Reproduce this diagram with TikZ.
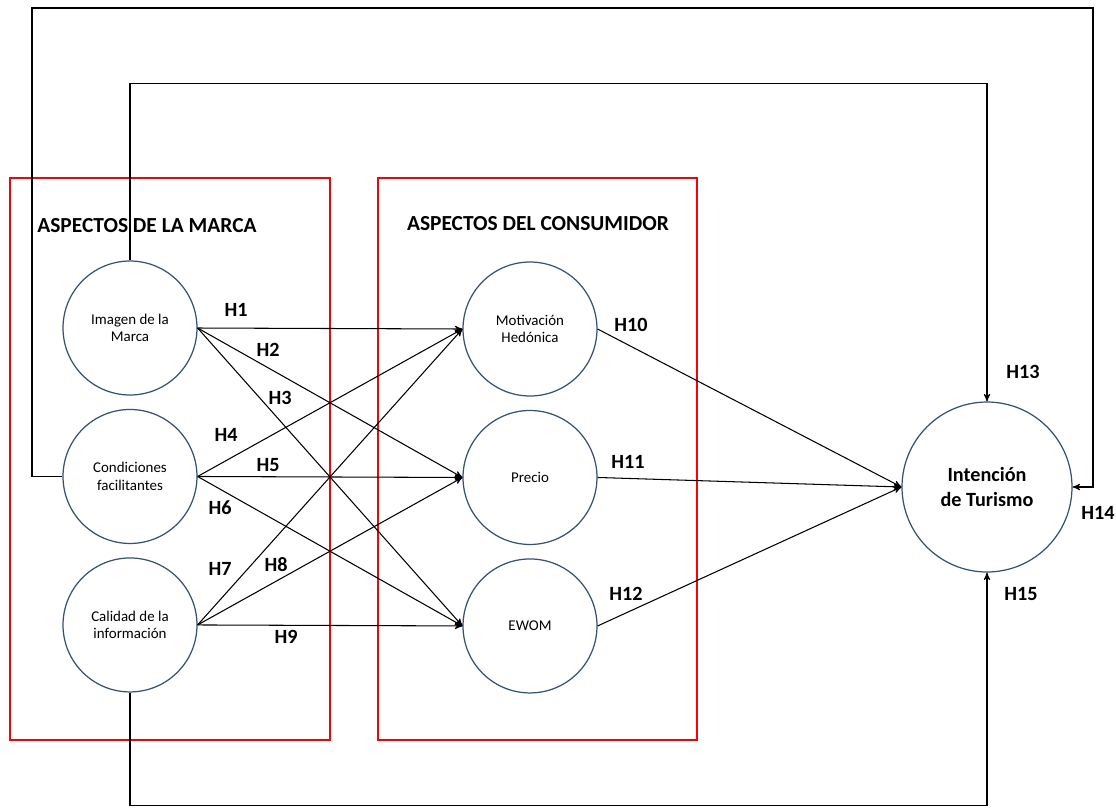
\documentclass[tikz,border=0pt]{standalone}
\usepackage{fontspec}
\setmainfont{Carlito}
\usetikzlibrary{arrows}

\definecolor{circblue}{RGB}{55,80,115}

\begin{document}
\begin{tikzpicture}[x=0.02cm,y=-0.02cm,>=stealth',line width=0.6pt,node distance=2.97cm,
  every node/.style={font=\bfseries\fontsize{11.5}{13}\selectfont},
  var/.style={circle,draw=circblue,line width=0.7pt,minimum size=2.68cm,inner sep=0pt,align=center,font=\fontsize{8.5}{10}\selectfont},
  box/.style={draw=red,line width=1.2pt},
  grp/.style={font=\bfseries\fontsize{12.2}{14}\selectfont}]
\useasboundingbox (0,0) rectangle (1116,809);

% grupos
\draw[box] (10,178) rectangle (330,740);
\draw[box] (378,178) rectangle (697,740);
\node[grp] (marca) at (147,226) {ASPECTOS DE LA MARCA};
\node[grp] (consu) at (538,224) {ASPECTOS DEL CONSUMIDOR};

% constructos
\node[var] (img) at (130,328) {Imagen de la\\Marca};
 \node[var] (cond) [below of=img] {Condiciones\\facilitantes};
  \node[var] (cal) [below of=cond] {Calidad de la\\información};
\node[var] (mot) at (530,329) {Motivación\\Hedónica};
 \node[var] (pre) [below of=mot] {Precio};
  \node[var] (ew) [below of=pre] {EWOM};
\node[var,minimum size=3.4cm,font=\bfseries\fontsize{11.5}{14}\selectfont] (int) at (987,487) {Intención\\de Turismo};

\coordinate (k1) at (32,8);
\coordinate (k2) at (1093,8);

\path[->] (img.east) edge (mot.west)
                     edge (pre.west)
                     edge (ew.west)
          (cond.east) edge (mot.west)
                      edge (pre.west)
                      edge (ew.west)
          (cal.east) edge (mot.west)
                     edge (pre.west)
                     edge (ew.west)
          (mot.east) edge (int.west)
          (pre.east) edge (int.west)
          (ew.east) edge (int.west);

\draw[->] (img.north) -- ++(0,-177) -| (int.north);
\draw[->] (cond.west) -| (k1) -- (k2) |- (int.east);
\draw[->] (cal.south) -- ++(0,113) -| (int.south);

% hipotesis
\node (h1) at (236,310) {H1};
\node (h2) at (268,350) {H2};
\node (h3) at (280,398) {H3};
\node (h4) at (226,435) {H4};
\node (h5) at (268,465) {H5};
\node (h6) at (220,508) {H6};
\node (h7) at (220,569) {H7};
\node (h8) at (276,565) {H8};
\node (h9) at (286,637) {H9};
\node (h10) at (631,325) {H10};
\node (h11) at (628,462) {H11};
\node (h12) at (626,594) {H12};
\node (h13) at (1023,372) {H13};
\node (h14) at (1098,513) {H14};
\node (h15) at (1021,594) {H15};
\end{tikzpicture}
\end{document}
